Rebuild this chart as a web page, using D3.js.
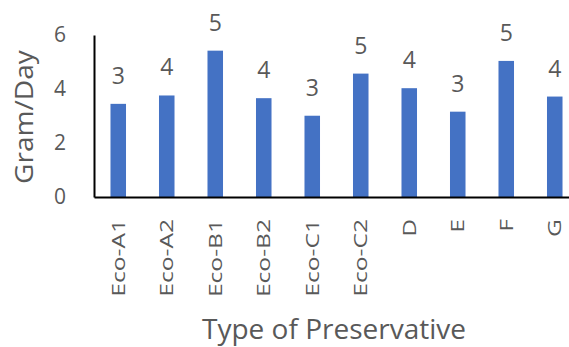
<!DOCTYPE html>
<html>
<head>
<meta charset="utf-8">
<script src="https://cdn.jsdelivr.net/npm/d3@7"></script>
<style>
  html, body { margin: 0; padding: 0; background: #fff; }
  svg { display: block; }
  text { font-family: "Open Sans", "Noto Sans", sans-serif; fill: #595959; }
</style>
</head>
<body>
<svg id="chart" width="569" height="347"></svg>
<script>
// Daily consumption per preservative type
const categories = ["Eco-A1", "Eco-A2", "Eco-B1", "Eco-B2", "Eco-C1", "Eco-C2", "D", "E", "F", "G"];
const values = [3.45, 3.76, 5.42, 3.66, 3.01, 4.57, 4.03, 3.16, 5.04, 3.72];
const yTicks = [0, 2, 4, 6];

const svg = d3.select("#chart");
const margin = { left: 94, top: 35, bottom: 197 };

const x = d3.scaleBand()
  .domain(categories)
  .range([margin.left, margin.left + 48.5 * categories.length])
  .paddingInner(0.68)
  .paddingOuter(0.34);

const y = d3.scaleLinear()
  .domain([0, 6])
  .range([margin.bottom, margin.top]);

// Bars
svg.append("g")
  .selectAll("rect")
  .data(values)
  .join("rect")
  .attr("x", (d, i) => x(categories[i]))
  .attr("y", d => y(d))
  .attr("width", x.bandwidth())
  .attr("height", d => y(0) - y(d))
  .attr("fill", "#4472C4");

// Value labels (rounded to whole grams)
const fmt = d3.format(".0f");
svg.append("g")
  .selectAll("text")
  .data(values)
  .join("text")
  .attr("x", (d, i) => x(categories[i]) + x.bandwidth() / 2)
  .attr("y", d => y(d) - 20)
  .attr("text-anchor", "middle")
  .attr("font-size", 23)
  .text(d => fmt(d));

// Y axis
const yAxis = svg.append("g")
  .attr("transform", `translate(${margin.left},0)`)
  .call(d3.axisLeft(y).tickValues(yTicks).tickFormat(d3.format("d")).tickSize(0).tickPadding(28));
yAxis.attr("font-size", 21).attr("font-family", null);
yAxis.select(".domain").attr("stroke", "#000").attr("stroke-width", 2);
yAxis.selectAll("text").attr("fill", "#595959");

// X axis: rotated category names, drawn slightly elongated along the reading direction
const stretch = 1.33;
const xAxis = svg.append("g")
  .attr("transform", `translate(0,${margin.bottom})`)
  .call(d3.axisBottom(x).tickSize(0).tickSizeOuter(0));
xAxis.attr("font-size", 18.5).attr("font-family", null);
xAxis.select(".domain").attr("stroke", "#000").attr("stroke-width", 2);
xAxis.selectAll("text")
  .attr("transform", `rotate(-90) scale(${stretch},1)`)
  .attr("text-anchor", "end")
  .attr("x", -22 / stretch)
  .attr("y", 0)
  .attr("dy", "0.35em")
  .attr("fill", "#595959");

// Axis titles
svg.append("text")
  .attr("transform", `translate(33,${(margin.top + margin.bottom) / 2 + 1}) rotate(-90) scale(1.08,1)`)
  .attr("text-anchor", "middle")
  .attr("font-size", 26)
  .text("Gram/Day");

svg.append("text")
  .attr("x", 334)
  .attr("y", 339)
  .attr("text-anchor", "middle")
  .attr("font-size", 28)
  .text("Type of Preservative");
</script>
</body>
</html>
